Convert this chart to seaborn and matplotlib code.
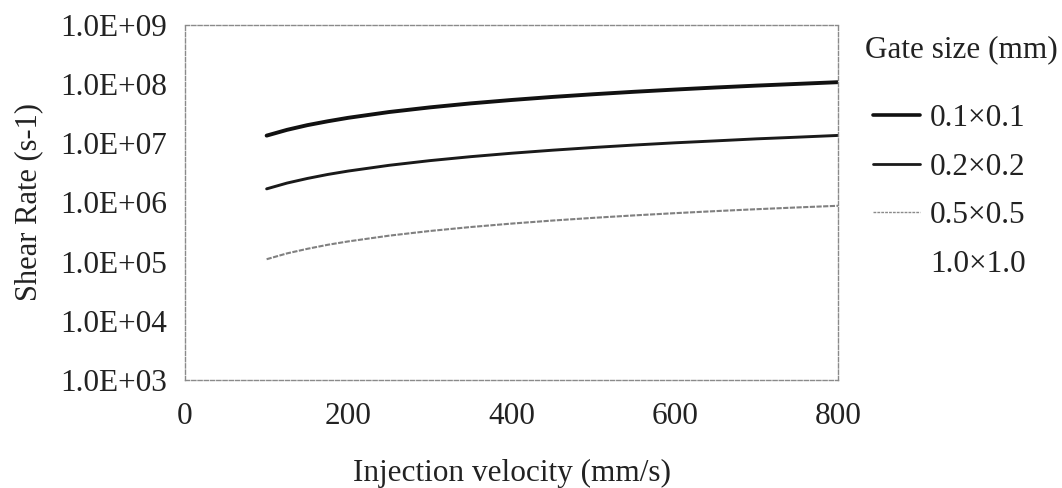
import matplotlib
matplotlib.use("Agg")
import matplotlib.pyplot as plt
from matplotlib.lines import Line2D
from matplotlib.ticker import FuncFormatter, FixedLocator, NullLocator
import pandas as pd
import seaborn as sns

# Injection velocity (mm/s) sample points
velocity = [100, 125, 150, 175, 200, 250, 300, 350, 400, 450, 500, 550, 600,
            650, 700, 750, 800]

# Shear rate (1/s) for each gate size
shear_01 = [1.35e7, 1.69e7, 2.03e7, 2.36e7, 2.7e7, 3.38e7, 4.05e7, 4.73e7, 5.4e7,
            6.08e7, 6.75e7, 7.43e7, 8.1e7, 8.78e7, 9.45e7, 1.01e8, 1.08e8]
shear_02 = [1.7e6, 2.13e6, 2.55e6, 2.98e6, 3.4e6, 4.25e6, 5.1e6, 5.95e6, 6.8e6,
            7.65e6, 8.5e6, 9.35e6, 1.02e7, 1.1e7, 1.19e7, 1.27e7, 1.36e7]
shear_05 = [1.1e5, 1.38e5, 1.65e5, 1.93e5, 2.2e5, 2.75e5, 3.3e5, 3.85e5, 4.4e5,
            4.95e5, 5.5e5, 6.05e5, 6.6e5, 7.15e5, 7.7e5, 8.25e5, 8.8e5]

gate_labels = ["0.1\u00d70.1", "0.2\u00d70.2", "0.5\u00d70.5", "1.0\u00d71.0"]
y_ticks = [1e3, 1e4, 1e5, 1e6, 1e7, 1e8, 1e9]
x_ticks = [0, 200, 400, 600, 800]

n = len(velocity)
df = pd.DataFrame({
    "velocity": velocity * 3,
    "shear": shear_01 + shear_02 + shear_05,
    "gate": [gate_labels[0]] * n + [gate_labels[1]] * n + [gate_labels[2]] * n,
})

sns.set_theme(style="white")
plt.rcParams["font.family"] = ["Liberation Serif", "DejaVu Serif"]

TXT = "#222222"
fig = plt.figure(figsize=(10.62, 4.88), dpi=100)
ax = fig.add_axes([0.1742, 0.2213, 0.6149, 0.7275])

styles = {
    gate_labels[0]: dict(color="#111111", lw=2.8, ls="-"),
    gate_labels[1]: dict(color="#1a1a1a", lw=2.1, ls="-"),
    gate_labels[2]: dict(color="#808080", lw=1.5, ls=(0, (2.5, 0.7))),
}
for g, st in styles.items():
    sns.lineplot(data=df[df["gate"] == g], x="velocity", y="shear", ax=ax,
                 color=st["color"], lw=st["lw"], ls=st["ls"], legend=False)

ax.set_yscale("log")
ax.set_xlim(0, 800)
ax.set_ylim(1e3, 1e9)
ax.yaxis.set_major_locator(FixedLocator(y_ticks))
ax.yaxis.set_minor_locator(NullLocator())
ax.yaxis.set_major_formatter(FuncFormatter(lambda v, p: f"{v:.1E}"))
ax.xaxis.set_major_locator(FixedLocator(x_ticks))

for sp in ax.spines.values():
    sp.set_visible(True)
    sp.set_color("#8a8a8a")
    sp.set_linewidth(1.0)
    sp.set_linestyle((0, (3, 1.5)))

ax.tick_params(axis="both", which="major", direction="out", length=5, width=1.2,
               color=TXT, labelsize=22.5, labelcolor=TXT)
ax.tick_params(axis="x", pad=11)
ax.tick_params(axis="y", pad=8)

ax.set_xlabel("Injection velocity (mm/s)", fontsize=22.5, color=TXT, labelpad=20)
ax.set_ylabel("Shear Rate (s-1)", fontsize=22, color=TXT, labelpad=12)

# legend: title as separate text, entries below
fig.text(865 / 1062, 1 - 50 / 488, "Gate size (mm)", fontsize=22.5, color=TXT,
         ha="left", va="center")
handles = [
    Line2D([], [], color=styles[gate_labels[0]]["color"], lw=2.6),
    Line2D([], [], color=styles[gate_labels[1]]["color"], lw=2.0),
    Line2D([], [], color="#8a8a8a", lw=1.0, ls=(0, (2, 0.8))),
    Line2D([], [], color="none", lw=0),
]
leg = fig.legend(handles, gate_labels, loc="upper left",
                 bbox_to_anchor=(873 / 1062, 1 - 104 / 488),
                 bbox_transform=fig.transFigure, frameon=False, fontsize=22.5,
                 labelspacing=0.63, handlelength=1.5, handletextpad=0.32,
                 borderpad=0, borderaxespad=0)
for t in leg.get_texts():
    t.set_color(TXT)

fig.savefig("out.png", dpi=100)
